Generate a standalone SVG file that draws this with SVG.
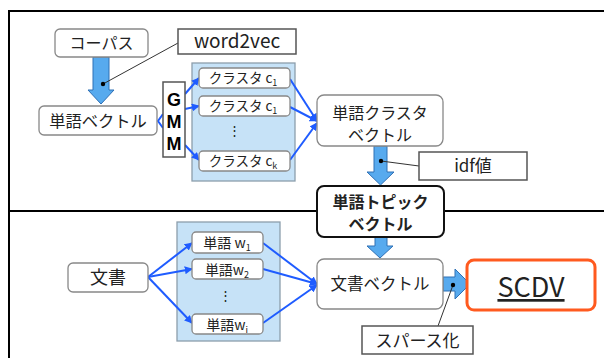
<svg xmlns="http://www.w3.org/2000/svg" width="604" height="358" viewBox="0 0 604 358">
<defs>
<style>
.t{font-family:"Noto Sans CJK JP","Noto Sans",sans-serif;fill:#222;text-anchor:middle}
.box{fill:#fff;stroke:#888;stroke-width:1.3}
.sq{fill:#fff;stroke:#555;stroke-width:1.5}
.cont{fill:#c6e2f7;stroke:#8d9eac;stroke-width:1.3}
.con{stroke:#1f5cff;stroke-width:2;fill:none;marker-end:url(#ah)}
.big{fill:#57aaee;stroke:#2f70b5;stroke-width:1}
.lead{stroke:#333;stroke-width:1;fill:none}
.g{font-family:"Liberation Sans",sans-serif;font-weight:bold;font-size:18px;fill:#000;text-anchor:middle}
</style>
<marker id="ah" viewBox="0 0 10 10" refX="9" refY="5" markerWidth="4" markerHeight="4" orient="auto" markerUnits="strokeWidth">
<path d="M0,0 L10,5 L0,10 z" fill="#1f5cff"/>
</marker>
</defs>
<rect width="604" height="358" fill="#fff"/>
<g id="frame" stroke="#000" stroke-width="2" fill="none">
<path d="M9,358 V11 H604"/>
<path d="M9,211 H604"/>
</g>
<g id="containers">
<rect class="cont" x="192" y="63" width="103" height="118"/>
<rect class="cont" x="177" y="222" width="103" height="119"/>
</g>
<g id="connectors">
<line class="con" x1="185" y1="94" x2="199" y2="78"/>
<line class="con" x1="185" y1="109" x2="199" y2="106"/>
<line class="con" x1="185" y1="145" x2="199" y2="160"/>
<path d="M163,114 L158,121 L163,128" stroke="#1f5cff" stroke-width="2" fill="none"/>
<line class="con" x1="290" y1="79" x2="317" y2="121"/>
<line class="con" x1="290" y1="107" x2="317" y2="121"/>
<line class="con" x1="290" y1="160" x2="317" y2="123"/>
<line class="con" x1="148" y1="277" x2="192" y2="243"/>
<line class="con" x1="148" y1="277" x2="192" y2="269"/>
<line class="con" x1="148" y1="277" x2="192" y2="323"/>
<line class="con" x1="263" y1="243" x2="317" y2="284"/>
<line class="con" x1="263" y1="269" x2="317" y2="284"/>
<line class="con" x1="263" y1="323" x2="317" y2="285"/>
<polygon class="big" points="93,57 109,57 109,90 114,90 101,104 88,90 93,90"/>
<polygon class="big" points="374,146 387,146 387,172 394,172 380.5,185 367,172 374,172"/>
<polygon class="big" points="375,237 387,237 387,246 393,246 380,258 367,246 375,246"/>
<polygon class="big" points="443,277 455,277 455,269 470,284 455,299 455,291 443,291"/>
<line class="lead" x1="103" y1="84" x2="178" y2="43"/>
<circle cx="103" cy="84" r="2.2" fill="#000"/>
<line class="lead" x1="381" y1="161" x2="419" y2="166"/>
<circle cx="381" cy="161" r="2.2" fill="#000"/>
<line class="lead" x1="453" y1="285" x2="438" y2="326"/>
<circle cx="453" cy="285" r="2.2" fill="#000"/>
</g>
<g id="corpus">
<rect class="box" x="55" y="29" width="93" height="28" rx="5"/>
<text class="t" x="101.5" y="49" font-size="16">コーパス</text>
</g>
<g id="word2vec">
<rect class="sq" x="178" y="29" width="118" height="25"/>
<text class="t" x="237" y="48" font-size="19" font-family="Noto Sans, sans-serif">word2vec</text>
</g>
<g id="wordvec">
<rect class="box" x="39" y="106" width="118" height="29" rx="5"/>
<text class="t" x="98" y="126.5" font-size="16.3">単語ベクトル</text>
</g>
<g id="gmm">
<rect class="sq" x="163" y="82" width="22" height="75"/>
<text class="g" x="174" y="106">G</text>
<text class="g" x="174" y="128">M</text>
<text class="g" x="174" y="150">M</text>
</g>
<g id="cluster1">
<rect class="box" x="199" y="68" width="91" height="20" rx="4"/>
<text class="t" x="243" y="83" font-size="13.5">クラスタ c<tspan font-size="9" dy="3">1</tspan></text>
</g>
<g id="cluster2">
<rect class="box" x="199" y="96" width="91" height="20" rx="4"/>
<text class="t" x="243" y="111" font-size="13.5">クラスタ c<tspan font-size="9" dy="3">1</tspan></text>
</g>
<text class="t" x="234.5" y="135" font-size="13">⋮</text>
<g id="cluster3">
<rect class="box" x="199" y="151" width="91" height="20" rx="4"/>
<text class="t" x="243" y="166" font-size="13.5">クラスタ c<tspan font-size="9" dy="3">k</tspan></text>
</g>
<g id="wcv">
<rect class="box" x="317" y="95" width="126" height="51" rx="7"/>
<text class="t" x="380" y="119" font-size="16">単語クラスタ</text>
<text class="t" x="380" y="141" font-size="16">ベクトル</text>
</g>
<g id="idf">
<rect class="sq" x="419" y="152" width="108" height="28"/>
<text class="t" x="473" y="172" font-size="17">idf値</text>
</g>
<g id="wtv">
<rect x="317" y="186" width="127" height="51" rx="7" fill="#fff" stroke="#111" stroke-width="2"/>
<text class="t" x="380.5" y="208" font-size="16" font-weight="bold" fill="#111">単語トピック</text>
<text class="t" x="380.5" y="230" font-size="16" font-weight="bold" fill="#111">ベクトル</text>
</g>
<g id="doc">
<rect class="box" x="68" y="263" width="80" height="29" rx="5"/>
<text class="t" x="108" y="284" font-size="18">文書</text>
</g>
<g id="w1">
<rect class="box" x="192" y="232" width="71" height="21" rx="4"/>
<text class="t" x="227" y="248" font-size="14">単語 w<tspan font-size="9" dy="3">1</tspan></text>
</g>
<g id="w2">
<rect class="box" x="192" y="259" width="71" height="20" rx="4"/>
<text class="t" x="227" y="275" font-size="14">単語w<tspan font-size="9" dy="3">2</tspan></text>
</g>
<text class="t" x="225" y="300" font-size="13">⋮</text>
<g id="wi">
<rect class="box" x="192" y="314" width="71" height="20" rx="4"/>
<text class="t" x="227" y="330" font-size="14">単語w<tspan font-size="9" dy="3">i</tspan></text>
</g>
<g id="docvec">
<rect class="box" x="317" y="259" width="126" height="50" rx="7"/>
<text class="t" x="380" y="290" font-size="16.5">文書ベクトル</text>
</g>
<g id="sparse">
<rect class="sq" x="362" y="326" width="111" height="28"/>
<text class="t" x="417.5" y="347" font-size="17">スパース化</text>
</g>
<g id="scdv">
<rect x="467" y="260" width="128" height="50" rx="7" fill="#fff" stroke="#ff5a1f" stroke-width="3"/>
<text class="t" x="531" y="297" font-size="27" font-family="Liberation Sans, sans-serif" text-decoration="underline" fill="#111">SCDV</text>
</g>
</svg>
